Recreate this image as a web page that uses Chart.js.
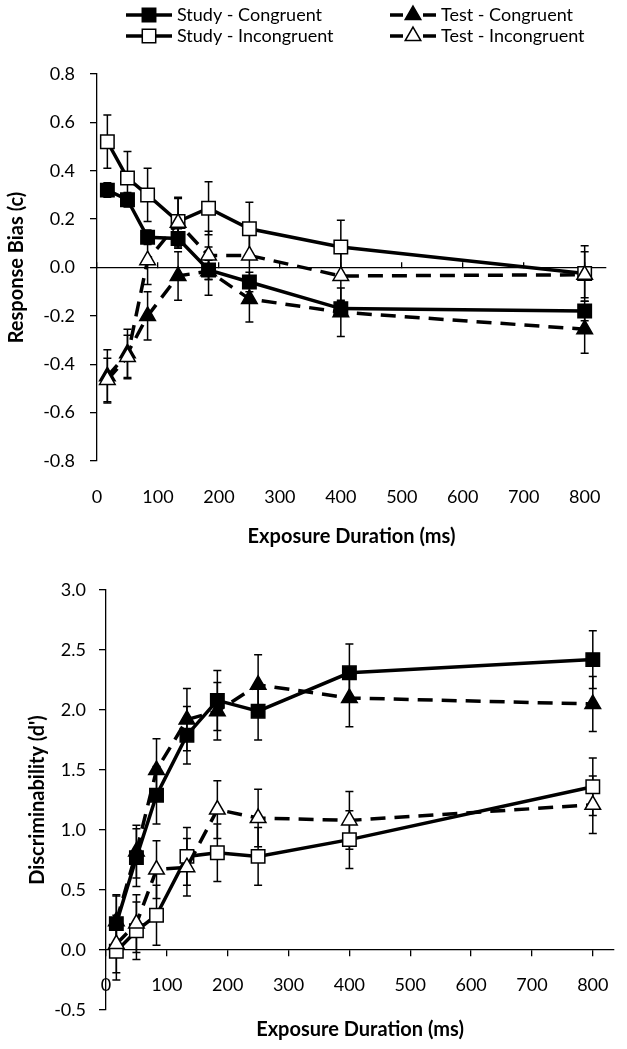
<!DOCTYPE html>
<html>
<head>
<meta charset="utf-8">
<script src="https://cdn.jsdelivr.net/npm/chart.js@4"></script>
<style>
  html, body { margin: 0; padding: 0; background: #fff; }
  #wrap { position: relative; width: 627px; height: 1049px; }
  .panel { position: absolute; left: 0; width: 627px; }
  #biasBox { top: 0; height: 555px; }
  #dprimeBox { top: 555px; height: 494px; }
</style>
</head>
<body>
<div id="wrap">
  <div class="panel" id="biasBox"><canvas id="bias"></canvas></div>
  <div class="panel" id="dprimeBox"><canvas id="dprime"></canvas></div>
</div>
<script>
// exposure durations (ms)
const durations = [17, 50, 83, 133, 183, 250, 400, 800];
const seriesNames = ["Study - Congruent", "Study - Incongruent", "Test - Congruent", "Test - Incongruent"];

// response bias (c)
const biasStudyCon = [0.32, 0.28, 0.125, 0.12, -0.01, -0.06, -0.17, -0.18];
const biasStudyConErr = [0.03, 0.03, 0.03, 0.04, 0.04, 0.04, 0.03, 0.04];
const biasStudyInc = [0.52, 0.37, 0.30, 0.19, 0.245, 0.16, 0.085, -0.025];
const biasStudyIncErr = [0.11, 0.11, 0.11, 0.10, 0.11, 0.11, 0.11, 0.115];
const biasTestCon = [-0.45, -0.355, -0.20, -0.035, -0.015, -0.13, -0.185, -0.255];
const biasTestConErr = [0.11, 0.10, 0.10, 0.10, 0.10, 0.095, 0.10, 0.10];
const biasTestInc = [-0.465, -0.37, 0.03, 0.185, 0.05, 0.05, -0.035, -0.03];
const biasTestIncErr = [0.09, 0.09, 0.10, 0.10, 0.10, 0.10, 0.10, 0.095];

// discriminability (d')
const dStudyCon = [0.22, 0.77, 1.29, 1.79, 2.08, 1.99, 2.31, 2.42];
const dStudyConErr = [0.23, 0.24, 0.24, 0.24, 0.25, 0.24, 0.24, 0.24];
const dStudyInc = [-0.01, 0.16, 0.29, 0.78, 0.81, 0.78, 0.92, 1.36];
const dStudyIncErr = [0.24, 0.24, 0.25, 0.24, 0.24, 0.24, 0.24, 0.24];
const dTestCon = [0.24, 0.82, 1.50, 1.92, 1.99, 2.21, 2.10, 2.05];
const dTestConErr = [0.22, 0.22, 0.26, 0.26, 0.24, 0.25, 0.24, 0.23];
const dTestInc = [0.05, 0.22, 0.67, 0.69, 1.17, 1.10, 1.08, 1.21];
const dTestIncErr = [0.24, 0.24, 0.24, 0.24, 0.24, 0.24, 0.24, 0.24];

const FONT = "Lato";

function seriesStyle(i) {
    const filled = i === 0 || i === 2;
    return {
        borderColor: "#000",
        borderWidth: 3.5,
        borderDash: i >= 2 ? [15, 9] : [],
        pointStyle: i < 2 ? "rect" : "triangle",
        pointRadius: i < 2 ? 9.5 : 9,
        pointHoverRadius: i < 2 ? 9.5 : 9,
        pointBackgroundColor: filled ? "#000" : "#fff",
        pointBorderColor: "#000",
        pointBorderWidth: 1.5,
        tension: 0,
        fill: false,
        order: 3 - i
    };
}

function makeDatasets(values, errors) {
    return values.map((vals, i) => Object.assign({
        label: seriesNames[i],
        data: durations.map((d, k) => ({ x: d, y: vals[k] })),
        errors: errors[i]
    }, seriesStyle(i)));
}

const errorBars = {
    id: "errorBars",
    beforeDatasetsDraw(chart) {
        const ctx = chart.ctx;
        const xs = chart.scales.x, ys = chart.scales.y;
        ctx.save();
        ctx.strokeStyle = "#000";
        ctx.lineWidth = 1.5;
        chart.data.datasets.forEach(ds => {
            ds.data.forEach((p, k) => {
                const e = ds.errors[k];
                const px = xs.getPixelForValue(p.x);
                const top = ys.getPixelForValue(p.y + e);
                const bot = ys.getPixelForValue(p.y - e);
                ctx.beginPath();
                ctx.moveTo(px, top); ctx.lineTo(px, bot);
                ctx.moveTo(px - 4, top); ctx.lineTo(px + 4, top);
                ctx.moveTo(px - 4, bot); ctx.lineTo(px + 4, bot);
                ctx.stroke();
            });
        });
        ctx.restore();
    }
};

// two-row legend above the top panel
const lineLegend = {
    id: "lineLegend",
    afterDraw(chart) {
        const ctx = chart.ctx;
        chart.data.datasets.forEach((ds, i) => {
            const x0 = i < 2 ? 126 : 390;
            const y = i % 2 ? 36 : 15;
            const len = 46;
            ctx.save();
            ctx.strokeStyle = "#000";
            ctx.lineWidth = ds.borderWidth;
            ctx.beginPath();
            if (ds.borderDash.length) {
                ctx.moveTo(x0, y); ctx.lineTo(x0 + 13, y);
                ctx.moveTo(x0 + len - 13, y); ctx.lineTo(x0 + len, y);
            } else {
                ctx.moveTo(x0, y); ctx.lineTo(x0 + len, y);
            }
            ctx.stroke();
            ctx.fillStyle = ds.pointBackgroundColor;
            ctx.lineWidth = ds.pointBorderWidth;
            Chart.helpers.drawPoint(ctx, {
                pointStyle: ds.pointStyle, radius: ds.pointRadius,
                borderWidth: ds.pointBorderWidth, rotation: 0
            }, x0 + len / 2, y);
            ctx.fillStyle = "#000";
            ctx.font = "18px " + FONT;
            ctx.textAlign = "left";
            ctx.textBaseline = "middle";
            ctx.fillText(ds.label, x0 + len + 5, y);
            ctx.restore();
        });
    }
};

function oneDecimal(v) {
    return Math.abs(v) < 1e-9 ? "0.0" : v.toFixed(1);
}

function yAxis(min, max, step, title, axisWidth, labelPad, titlePad) {
    return {
        type: "linear", position: "left", min: min, max: max,
        afterFit(scale) { scale.width = axisWidth; },
        border: { display: true, color: "#000", width: 1.3 },
        grid: { drawOnChartArea: false, drawTicks: true, tickLength: 7, color: "#000", lineWidth: 1.3 },
        ticks: {
            stepSize: step, padding: labelPad, color: "#000",
            font: { family: FONT, size: 18 },
            callback: v => oneDecimal(v)
        },
        title: {
            display: true, text: title, color: "#000",
            font: { family: FONT, size: 20, weight: "bold" },
            padding: { top: titlePad, bottom: 0 }
        }
    };
}

function titleAxis(axisHeight, showLabels, labelPad, titlePad) {
    return {
        type: "linear", position: "bottom", min: 0, max: 835,
        afterFit(scale) { scale.height = axisHeight; },
        border: { display: false },
        grid: { display: false, drawTicks: false },
        ticks: {
            display: showLabels, stepSize: 100, includeBounds: false, padding: labelPad,
            maxRotation: 0, autoSkip: false, color: "#000",
            font: { family: FONT, size: 18 }
        },
        title: {
            display: true, text: "Exposure Duration (ms)", color: "#000",
            font: { family: FONT, size: 20, weight: "bold" },
            padding: { top: 0, bottom: titlePad }
        }
    };
}

function zeroAxis(showLabels, tickLength, labelPad) {
    return {
        type: "linear", position: { y: 0 }, min: 0, max: 835,
        border: { display: true, color: "#000", width: 1.3 },
        grid: { drawOnChartArea: false, drawTicks: true, tickLength: tickLength, color: "#000", lineWidth: 1.3 },
        ticks: {
            display: showLabels, stepSize: 100, includeBounds: false, padding: labelPad,
            maxRotation: 0, autoSkip: false, color: "#000",
            font: { family: FONT, size: 18 }
        }
    };
}

function renderBiasChart(ctx) {
    new Chart(ctx, {
        type: "line",
        data: {
            datasets: makeDatasets(
                [biasStudyCon, biasStudyInc, biasTestCon, biasTestInc],
                [biasStudyConErr, biasStudyIncErr, biasTestConErr, biasTestIncErr])
        },
        options: {
            responsive: true, maintainAspectRatio: false, animation: false,
            layout: { padding: { top: 74, right: 21, bottom: 0, left: 0 } },
            plugins: { legend: { display: false }, tooltip: { enabled: false } },
            scales: {
                x: zeroAxis(false, -6, 0),
                xb: titleAxis(94, true, 25, 6),
                y: yAxis(-0.8, 0.8, 0.2, "Response Bias (c)", 97, 15, 5)
            }
        },
        plugins: [errorBars, lineLegend]
    });
}

function renderDprimeChart(ctx) {
    new Chart(ctx, {
        type: "line",
        data: {
            datasets: makeDatasets(
                [dStudyCon, dStudyInc, dTestCon, dTestInc],
                [dStudyConErr, dStudyIncErr, dTestConErr, dTestIncErr])
        },
        options: {
            responsive: true, maintainAspectRatio: false, animation: false,
            layout: { padding: { top: 35, right: 11, bottom: 0, left: 0 } },
            plugins: { legend: { display: false }, tooltip: { enabled: false } },
            scales: {
                x: zeroAxis(true, 6, 18),
                xb: titleAxis(39, false, 0, 7),
                y: yAxis(-0.5, 3.0, 0.5, "Discriminability (d')", 106, 13, 26)
            }
        },
        plugins: [errorBars]
    });
}

document.fonts.load("18px " + FONT).then(() => {
    renderBiasChart(document.getElementById("bias"));
    renderDprimeChart(document.getElementById("dprime"));
});
</script>
</body>
</html>
